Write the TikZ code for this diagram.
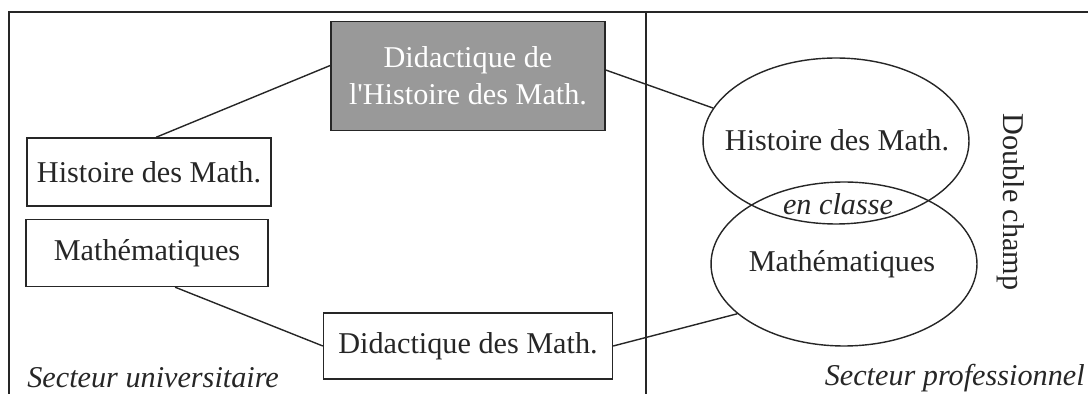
\documentclass[tikz,border=0pt]{standalone}
\usepackage{fontspec}
\setmainfont{Liberation Serif}
\usetikzlibrary{shapes.geometric, positioning}
\newcommand{\figfont}{\fontsize{17.2}{21}\selectfont}
\tikzset{
  box/.style={rectangle, draw, line width=0.8pt, align=center, inner sep=0pt},
  darkbox/.style={box, fill=black!40, text=white},
  field/.style={ellipse, draw, line width=0.8pt, minimum width=5.32cm, inner sep=0pt},
  link/.style={line width=0.8pt},
  sector/.style={font=\figfont\itshape, inner sep=0pt},
}

\begin{document}
\begin{tikzpicture}[x=0.02cm, y=-0.02cm, font=\figfont, draw=black!85, text=black!85]
  \useasboundingbox (0,0) rectangle (1088,394);
  % frame and divider
  \draw[line width=0.8pt] (9,394) -- (9,12) -- (1088,12);
  \draw[line width=0.8pt] (646,12) -- (646,394);
  % university side
  \node[darkbox, minimum width=5.48cm, minimum height=2.18cm] (dhm) at (468,76)
    {Didactique de\\l\textquotesingle Histoire des Math.};
  \node[box, minimum width=4.88cm, minimum height=1.36cm] (hist) at (149,172) {Histoire des Math.};
  \node[box, minimum width=4.84cm, minimum height=1.34cm] (math) at (147,253) {Math\'ematiques};
  \node[box, minimum width=5.78cm, minimum height=1.32cm] (dm) at (468,346) {Didactique des Math.};
  \node[sector, anchor=west] (univ) at (27,378) {Secteur universitaire};
  % professional side
  \node[field, minimum height=3.32cm] (fhist) at (836,141) {};
  \node[field, minimum height=3.28cm] (fmath) at (844,264) {};
  \node (fhisttxt) at (837,140) {Histoire des Math.};
  \node (fmathtxt) at (842,264) {Math\'ematiques};
  \node[font=\figfont\itshape] (classe) at (838,204) {en classe};
  \node[rotate=-90] (double) at (1011,202) {Double champ};
  \node[sector, anchor=east] (pro) at (1085,378) {Secteur professionnel};
  % links
  \draw[link] ([xshift=4pt]hist.north) -- ([yshift=6pt]dhm.west);
  \draw[link] (dhm.east |- 0,70) -- (fhist.165);
  \draw[link] ([xshift=16pt]math.south) -- (dm.west);
  \draw[link] (dm.east) -- (fmath.205);
\end{tikzpicture}
\end{document}
